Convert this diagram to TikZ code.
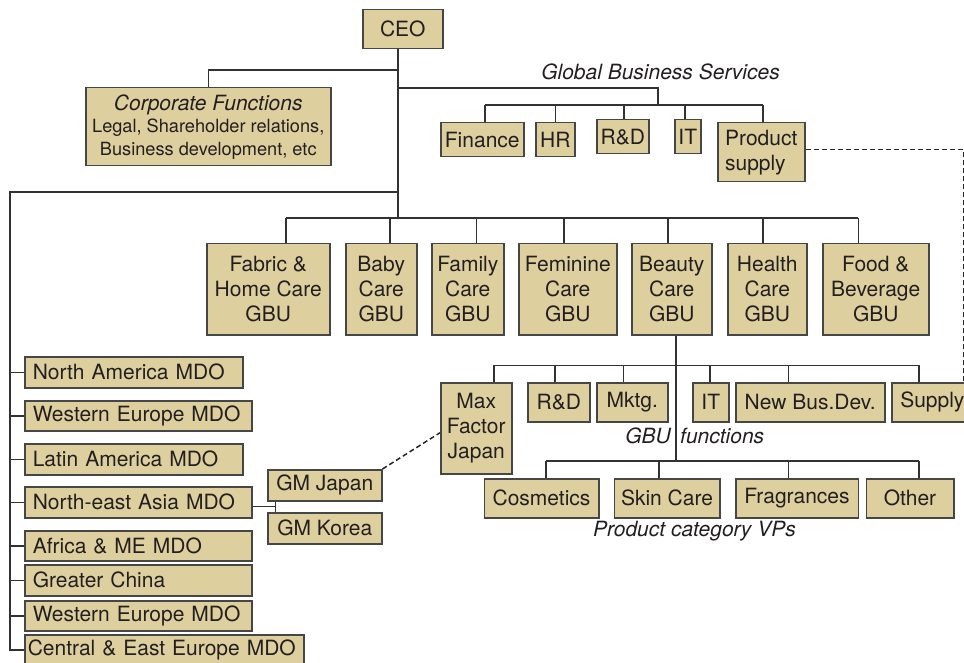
\documentclass[tikz,border=0pt]{standalone}
\usepackage{fontspec}
\setmainfont{TeX Gyre Heros}
\definecolor{boxfill}{RGB}{222,208,158}
\definecolor{boxline}{RGB}{70,70,70}
\definecolor{conn}{RGB}{50,50,50}
\definecolor{txt}{RGB}{35,31,32}
\tikzset{
  box/.style={draw=boxline,fill=boxfill,line width=1.5pt,inner sep=0pt,align=center,
    text=txt,font=\fontsize{21}{25}\selectfont},
  lft/.style={align=left,inner xsep=8pt,text width=\tw pt},
  lbl/.style={text=txt,font=\fontsize{21}{25}\selectfont\itshape,inner sep=0pt},
  ln/.style={draw=conn,line width=1.5pt},
  dsh/.style={draw=black!85,line width=1.5pt,dash pattern=on 5pt off 3pt}
}
\newcommand\bx[7][]{%
  \pgfmathsetmacro\bw{#5-#3}\pgfmathsetmacro\bh{#6-#4}\pgfmathsetmacro\tw{#5-#3-16}%
  \node[box,anchor=north west,minimum width=\bw pt,minimum height=\bh pt,#1] (#2) at (#3,#4) {#7};}
\newcommand\drop[3]{\coordinate (#1D) at ([xshift=#2pt]#1.north);\draw[ln] (#1D) -- (#1D |- #3);}
\begin{document}
\begin{tikzpicture}[x=1pt,y=-1pt]
\useasboundingbox (0,0) rectangle (964,663);
% boxes
\bx{ceo}{362}{9}{442}{48}{CEO}
\bx[font=\fontsize{18.2}{22.5}\selectfont]{corp}{85}{87}{330}{165}{{\fontsize{21}{22.5}\selectfont\itshape Corporate Functions}\\Legal, Shareholder relations,\\Business development, etc}
\bx{fin}{440}{122}{523}{156}{Finance}
\bx{hr}{535}{122}{574}{156}{HR}
\bx{rd}{596}{119}{648}{153}{R\&D}
\bx{it}{674}{119}{700}{153}{IT}
\bx[align=left]{ps}{717}{122}{804}{181}{Product\\supply}
% GBUs
\bx{fab}{206}{243}{329}{334}{Fabric \&\\Home Care\\GBU}
\bx{baby}{345}{243}{416}{334}{Baby\\Care\\GBU}
\bx{fam}{431}{243}{503}{334}{Family\\Care\\GBU}
\bx{fem}{518}{243}{616}{334}{Feminine\\Care\\GBU}
\bx{beauty}{631}{243}{711}{334}{Beauty\\Care\\GBU}
\bx{health}{727}{243}{806}{334}{Health\\Care\\GBU}
\bx{food}{822}{243}{928}{334}{Food \&\\Beverage\\GBU}
% GBU functions
\bx{mf}{440}{382}{511}{473}{Max\\Factor\\Japan}
\bx{rdb}{527}{382}{589}{421}{R\&D}
\bx{mk}{596}{382}{667}{421}{Mktg.}
\bx{itb}{692}{382}{728}{421}{IT}
\bx{nbd}{735}{382}{884}{421}{New Bus.Dev.}
\bx[align=left,text width=60pt]{sup}{891}{382}{968}{421}{Supply}
% product categories
\bx{cos}{483.5}{478}{598}{517}{Cosmetics}
\bx{skin}{613.5}{478}{719}{517}{Skin Care}
\bx{frag}{735}{478}{857.5}{517}{Fragrances}
\bx{oth}{865.5}{478}{953}{517}{Other}
% MDOs
\bx[lft]{na}{24}{356}{242}{387}{North America MDO}
\bx[lft]{we}{24}{400}{251}{430}{Western Europe MDO}
\bx[lft]{la}{24}{443}{242}{474}{Latin America MDO}
\bx[lft]{nea}{24}{486}{251}{517}{North-east Asia MDO}
\bx[lft]{af}{24}{530}{251}{560}{Africa \& ME MDO}
\bx[lft]{gc}{24}{564}{251}{595}{Greater China}
\bx[lft]{wee}{24}{600}{251}{630}{Western Europe MDO}
\bx[lft,inner xsep=3pt,text width=273pt]{ce}{24}{634}{303}{664}{Central \& East Europe MDO}
\bx{gmj}{267}{469}{381}{500}{GM Japan}
\bx{gmk}{267}{512}{381}{543}{GM Korea}
% labels
\node[lbl] (gbsl) at (660.5,72) {Global Business Services};
\node[lbl,anchor=east] (gbul) at (671,436) {GBU};
\node[lbl,anchor=west] (funl) at (680,436) {functions};
\node[lbl] (pcvl) at (694.5,531) {Product category VPs};
% coordinates
\coordinate (trk) at (398,0);
\coordinate (c70) at (398,70);
\coordinate (g88) at (398,88);
\coordinate (gj) at (658,105);
\coordinate (gbsb) at (0,105);
\coordinate (mdoTop) at (398,192);
\coordinate (mdoL) at (10,192);
\coordinate (gbub) at (0,218);
\coordinate (fnb) at (0,365.3);
\coordinate (pcb) at (0,461);
\coordinate (gmx) at (275.7,0);
% CEO trunk
\draw[ln] (ceo.south -| trk) -- (trk |- gbub);
\draw[ln] (c70) -| (corp.north);
\draw[ln] (g88) -| (gj);
% GBS
\drop{fin}{2.5}{gbsb}\drop{hr}{0}{gbsb}\drop{rd}{1}{gbsb}\drop{it}{-3}{gbsb}\drop{ps}{1.5}{gbsb}
\draw[ln] (finD |- gbsb) -- (psD |- gbsb);
% GBUs
\drop{fab}{17.5}{gbub}\drop{baby}{8.6}{gbub}\drop{fam}{8.8}{gbub}\drop{fem}{-4}{gbub}
\drop{beauty}{-4}{gbub}\drop{health}{-4.4}{gbub}\drop{food}{-17.4}{gbub}
\draw[ln] (fabD |- gbub) -- (foodD |- gbub);
% Beauty trunk
\coordinate (bT) at ([xshift=4.2pt]beauty.south);
\draw[ln] (bT) -- (bT |- pcb);
\drop{mf}{17.5}{fnb}\drop{rdb}{-4}{fnb}\drop{mk}{-8.8}{fnb}\drop{itb}{-0.7}{fnb}
\drop{nbd}{-21.8}{fnb}\drop{sup}{-11.2}{fnb}
\draw[ln] (mfD |- fnb) -- (supD |- fnb);
\drop{cos}{4.5}{pcb}\drop{skin}{-8}{pcb}\drop{frag}{-8.5}{pcb}\drop{oth}{9}{pcb}
\draw[ln] (cosD |- pcb) -- (othD |- pcb);
% MDOs
\draw[ln] (mdoTop) -- (mdoL) |- (ce.west);
\foreach \n in {na,we,la,nea,af,gc,wee} \draw[ln] (mdoL |- \n.west) -- (\n.west);
\coordinate (neaE) at ([yshift=-4pt]nea.east);
\draw[ln] (neaE) -- (neaE -| gmx);
\draw[ln] (gmj.south -| gmx) -- (gmk.north -| gmx);
% dashed links
\draw[dsh] ([yshift=2.5pt]ps.east) -| ([xshift=-6pt]sup.north east);
\draw[dsh] (gmj.north east) -- ([yshift=-4.5pt]mf.west);
\end{tikzpicture}
\end{document}
